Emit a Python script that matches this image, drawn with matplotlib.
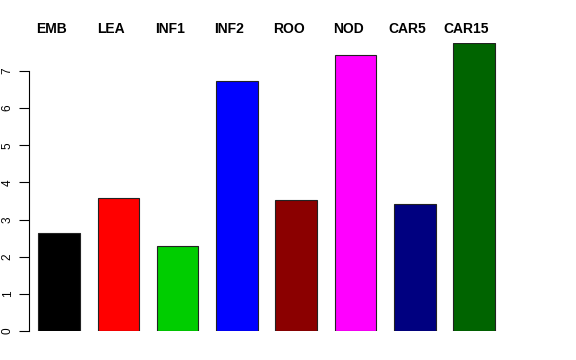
import matplotlib
matplotlib.use("Agg")
import matplotlib.pyplot as plt
from matplotlib.transforms import blended_transform_factory

categories = ["EMB", "LEA", "INF1", "INF2", "ROO", "NOD", "CAR5", "CAR15"]
values = [2.63, 3.58, 2.30, 6.73, 3.53, 7.43, 3.42, 7.75]
colors = ["#000000", "#FF0000", "#00CD00", "#0000FF", "#8B0000", "#FF00FF", "#000080", "#006400"]
yticks = [0, 1, 2, 3, 4, 5, 6, 7]

plt.rcParams['font.family'] = ['Liberation Sans', 'DejaVu Sans']

W, H = 576, 360
fig = plt.figure(figsize=(W / 100, H / 100), dpi=100)
left_px, right_px, top_px, bot_px = 29, 530, 43, 331
ax = fig.add_axes([left_px / W, 1 - bot_px / H, (right_px - left_px) / W, (bot_px - top_px) / H])

period = 59.3
c0 = 59.0
x = list(range(len(categories)))
ax.bar(x, values, width=41.5 / period, color=colors, edgecolor="#222222", linewidth=0.8)
ax.set_xlim((left_px - c0) / period, (right_px - c0) / period)
ax.set_ylim(0, max(values))

for s in ["top", "right", "bottom"]:
    ax.spines[s].set_visible(False)
ax.spines["left"].set_bounds(0, 7)
ax.spines["left"].set_linewidth(0.8)
ax.set_xticks([])
ax.set_yticks(yticks)
ax.set_yticklabels([str(t) for t in yticks], rotation=90, va="center", fontsize=8.5)
ax.tick_params(axis="y", length=7, width=0.8, pad=4)

trans = blended_transform_factory(ax.transData, fig.transFigure)
for i, c in enumerate(categories):
    ax.text(i - 7.5 / period, 1 - 29 / H, c, transform=trans, ha="center", va="center",
            fontsize=10, fontweight="bold")

fig.savefig("out.png", dpi=100)
